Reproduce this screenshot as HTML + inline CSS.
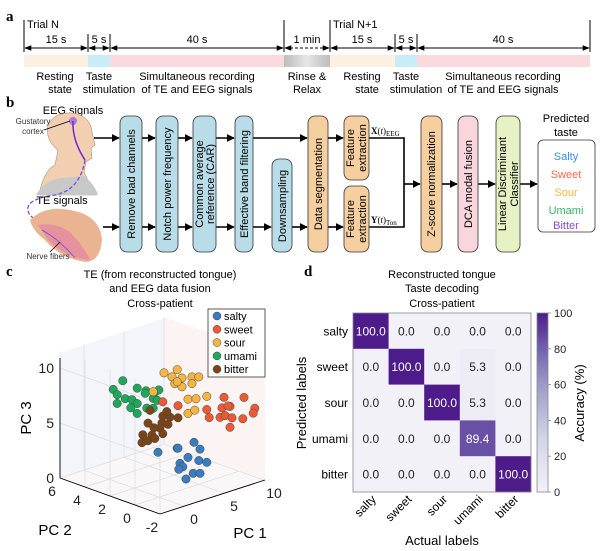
<!DOCTYPE html>
<html><head><meta charset="utf-8"><style>
html,body{margin:0;padding:0;background:#fff;}
svg{display:block;font-family:"Liberation Sans",sans-serif;}
</style></head><body>
<svg id="fig" width="600" height="551" viewBox="0 0 600 551" xmlns="http://www.w3.org/2000/svg">
<defs>
<marker id="ah" viewBox="0 0 10 10" refX="9" refY="5" markerWidth="7" markerHeight="7" orient="auto-start-reverse"><path d="M0,1 L10,5 L0,9 z" fill="#000"/></marker>
<marker id="ab" viewBox="0 0 10 10" refX="9" refY="5" markerWidth="5" markerHeight="5" orient="auto"><path d="M0,0 L10,5 L0,10 z" fill="#000"/></marker>
<linearGradient id="rinse" x1="0" x2="1"><stop offset="0" stop-color="#bdbdbd"/><stop offset="0.5" stop-color="#e6e6e6"/><stop offset="1" stop-color="#bdbdbd"/></linearGradient>
<linearGradient id="cbar" x1="0" y1="1" x2="0" y2="0"><stop offset="0" stop-color="#f3f1f8"/><stop offset="0.3" stop-color="#d4d3e8"/><stop offset="0.6" stop-color="#9e9ac8"/><stop offset="0.8" stop-color="#7262ad"/><stop offset="1" stop-color="#4d1c8a"/></linearGradient>
</defs>

<!-- Panel a -->
<g>
<text x="6" y="21" font-family="Liberation Serif" font-weight="bold" font-size="15">a</text>
<text x="27" y="28" font-size="11">Trial N</text>
<text x="333" y="28" font-size="11">Trial N+1</text>
<g stroke="#000" stroke-width="1">
<line x1="24" y1="20" x2="24" y2="52"/><line x1="284" y1="20" x2="284" y2="52"/><line x1="330" y1="20" x2="330" y2="52"/><line x1="590" y1="20" x2="590" y2="52"/>
<line x1="88" y1="34" x2="88" y2="52"/><line x1="110" y1="34" x2="110" y2="52"/><line x1="395" y1="34" x2="395" y2="52"/><line x1="417" y1="34" x2="417" y2="52"/>
<line x1="25" y1="48" x2="87" y2="48" marker-start="url(#ah)" marker-end="url(#ah)"/>
<line x1="89" y1="48" x2="109" y2="48" marker-start="url(#ah)" marker-end="url(#ah)"/>
<line x1="111" y1="48" x2="283" y2="48" marker-start="url(#ah)" marker-end="url(#ah)"/>
<line x1="285" y1="48" x2="329" y2="48" stroke-dasharray="3,2" marker-start="url(#ah)" marker-end="url(#ah)"/>
<line x1="331" y1="48" x2="394" y2="48" marker-start="url(#ah)" marker-end="url(#ah)"/>
<line x1="396" y1="48" x2="416" y2="48" marker-start="url(#ah)" marker-end="url(#ah)"/>
<line x1="418" y1="48" x2="589" y2="48" marker-start="url(#ah)" marker-end="url(#ah)"/>
</g>
<g font-size="11" text-anchor="middle">
<text x="56" y="43">15 s</text><text x="99" y="43">5 s</text><text x="197" y="43">40 s</text><text x="307" y="43">1 min</text>
<text x="362" y="43">15 s</text><text x="406" y="43">5 s</text><text x="503" y="43">40 s</text>
</g>
<rect x="24" y="55" width="64" height="12" fill="#fbf0e2"/>
<rect x="88" y="55" width="22" height="12" fill="#c8ecf8"/>
<rect x="110" y="55" width="174" height="12" fill="#fadadd"/>
<rect x="284" y="55" width="46" height="12" fill="url(#rinse)"/>
<rect x="330" y="55" width="65" height="12" fill="#fbf0e2"/>
<rect x="395" y="55" width="22" height="12" fill="#c8ecf8"/>
<rect x="417" y="55" width="173" height="12" fill="#fadadd"/>
<g font-size="11" text-anchor="middle">
<text x="55" y="80">Resting</text><text x="99" y="80">Taste</text><text x="197" y="80">Simultaneous recording</text><text x="307" y="80">Rinse &amp;</text>
<text x="362" y="80">Resting</text><text x="406" y="80">Taste</text><text x="503" y="80">Simultaneous recording</text>
<text x="60" y="93">state</text><text x="109" y="93">stimulation</text><text x="197" y="93">of TE and EEG signals</text><text x="307" y="93">Relax</text>
<text x="367" y="93">state</text><text x="416" y="93">stimulation</text><text x="503" y="93">of TE and EEG signals</text>
</g>
</g>

<!-- Panel b -->
<g>
<text x="6" y="107" font-family="Liberation Serif" font-weight="bold" font-size="15">b</text>
<text x="73" y="114" font-size="11" text-anchor="middle">EEG signals</text>
<g>
<path d="M40,190 Q45,170 55,165 L58,150 Q45,140 48,125 Q55,112 72,113 Q90,115 92,132 L95,145 L91,148 L92,158 L86,162 L84,172 Q90,185 96,195 L40,195 z" fill="#f2cfb0" stroke="#b58c6e" stroke-width="0.6"/>
<path d="M36,195 Q45,180 62,178 L84,176 Q95,185 98,195 z" fill="#c8c8c8"/>
<circle cx="73" cy="121" r="4" fill="#a060e0" opacity="0.8"/>
<path d="M73,121 Q72,140 85,160" stroke="#6a2bd6" stroke-width="1.5" fill="none"/>
</g>
<text x="33" y="124" font-size="8" text-anchor="middle" fill="#333">Gustatory</text>
<text x="33" y="134" font-size="8" text-anchor="middle" fill="#333">cortex</text>
<line x1="44" y1="130" x2="70" y2="121" stroke="#000" stroke-width="0.8"/>
<path d="M85,160 Q80,190 55,195 Q20,200 30,215 Q40,225 55,238" stroke="#7a4ae6" stroke-width="1.3" stroke-dasharray="4,2" fill="none"/>
<text x="62" y="204" font-size="11" text-anchor="middle">TE signals</text>
<path d="M30,220 Q45,205 70,210 Q100,215 102,240 Q100,262 85,262 Q60,258 45,240 Q32,230 30,220 z" fill="#eab392"/>
<path d="M38,225 Q55,222 70,232 Q85,248 90,260 Q65,258 48,240 z" fill="#e48aa0" opacity="0.8"/>
<path d="M42,230 Q60,240 75,258" stroke="#7a4ae6" stroke-width="0.8" fill="none"/>
<text x="48" y="259" font-size="8" text-anchor="middle" fill="#333">Nerve fibers</text>
<line x1="50" y1="252" x2="60" y2="242" stroke="#000" stroke-width="0.8"/>

<g stroke="#000" stroke-width="1.6">
<line x1="94" y1="138" x2="119" y2="138" marker-end="url(#ab)"/>
<line x1="103" y1="227" x2="119" y2="227" marker-end="url(#ab)"/>
<line x1="142" y1="138" x2="155" y2="138" marker-end="url(#ab)"/>
<line x1="142" y1="227" x2="155" y2="227" marker-end="url(#ab)"/>
<line x1="178" y1="138" x2="192" y2="138" marker-end="url(#ab)"/>
<line x1="178" y1="227" x2="192" y2="227" marker-end="url(#ab)"/>
<line x1="216" y1="138" x2="234" y2="138" marker-end="url(#ab)"/>
<line x1="216" y1="227" x2="234" y2="227" marker-end="url(#ab)"/>
<line x1="253" y1="138" x2="307" y2="138" marker-end="url(#ab)"/>
<line x1="253" y1="227" x2="271" y2="227" marker-end="url(#ab)"/>
<line x1="292" y1="227" x2="307" y2="227" marker-end="url(#ab)"/>
<line x1="328" y1="138" x2="343" y2="138" marker-end="url(#ab)"/>
<line x1="328" y1="227" x2="343" y2="227" marker-end="url(#ab)"/>
<polyline points="369,138 404,138 404,227 369,227" fill="none"/>
<line x1="404" y1="184" x2="420" y2="184" marker-end="url(#ab)"/>
<line x1="442" y1="184" x2="457" y2="184" marker-end="url(#ab)"/>
<line x1="478" y1="184" x2="495" y2="184" marker-end="url(#ab)"/>
<line x1="520" y1="184" x2="537" y2="184" marker-end="url(#ab)"/>
</g>
<text x="371" y="134" font-size="9" font-family="Liberation Serif"><tspan font-weight="bold">X</tspan>(<tspan font-style="italic">t</tspan>)<tspan font-size="7" dy="2">EEG</tspan></text>
<text x="371" y="223" font-size="9" font-family="Liberation Serif"><tspan font-weight="bold">Y</tspan>(<tspan font-style="italic">t</tspan>)<tspan font-size="7" dy="2">Ton</tspan></text>

<g stroke="#333" stroke-width="0.8" font-size="11">
<rect x="120" y="116" width="22" height="136" rx="7" fill="#b9dde8"/>
<rect x="156" y="116" width="22" height="136" rx="7" fill="#b9dde8"/>
<rect x="193" y="116" width="23" height="136" rx="7" fill="#b9dde8"/>
<rect x="235" y="116" width="18" height="136" rx="7" fill="#b9dde8"/>
<rect x="272" y="159" width="20" height="93" rx="7" fill="#b9dde8"/>
<rect x="308" y="116" width="20" height="136" rx="7" fill="#f5cfa0"/>
<rect x="344" y="116" width="25" height="64" rx="7" fill="#f5cfa0"/>
<rect x="344" y="186" width="25" height="66" rx="7" fill="#f5cfa0"/>
<rect x="421" y="116" width="21" height="136" rx="7" fill="#f5cfa0"/>
<rect x="458" y="116" width="20" height="136" rx="7" fill="#f9d6dc"/>
<rect x="496" y="116" width="24" height="136" rx="7" fill="#e6f2c4"/>
<rect x="538" y="140" width="57" height="92" rx="5" fill="#fff"/>
</g>
<g font-size="11" fill="#000" text-anchor="middle">
<text transform="translate(135,184) rotate(-90)">Remove bad channels</text>
<text transform="translate(171,184) rotate(-90)">Notch power frequency</text>
<text transform="translate(203,184) rotate(-90)">Common average</text>
<text transform="translate(214,184) rotate(-90)">reference (CAR)</text>
<text transform="translate(248,184) rotate(-90)">Effective band filtering</text>
<text transform="translate(286,206) rotate(-90)">Downsampling</text>
<text transform="translate(322,184) rotate(-90)">Data segmentation</text>
<text transform="translate(354,148) rotate(-90)">Feature</text>
<text transform="translate(366,148) rotate(-90)">extraction</text>
<text transform="translate(354,219) rotate(-90)">Feature</text>
<text transform="translate(366,219) rotate(-90)">extraction</text>
<text transform="translate(435,184) rotate(-90)">Z-score normalization</text>
<text transform="translate(472,184) rotate(-90)">DCA modal fusion</text>
<text transform="translate(506,184) rotate(-90)">Linear Discriminant</text>
<text transform="translate(518,184) rotate(-90)">Classifier</text>
<text x="566" y="122">Predicted</text>
<text x="566" y="136">taste</text>
</g>
<g font-size="11" text-anchor="middle">
<text x="566" y="160" fill="#3b8fe0">Salty</text>
<text x="566" y="178" fill="#f06a4a">Sweet</text>
<text x="566" y="196" fill="#f8b64a">Sour</text>
<text x="566" y="214" fill="#2fb56a">Umami</text>
<text x="566" y="232" dy="-3" fill="#8a4ac8">Bitter</text>
</g>
</g>

<!-- Panel c -->
<g id="panelC">
<text x="6" y="276" font-family="Liberation Serif" font-weight="bold" font-size="15">c</text>
<g font-size="11" text-anchor="middle">
<text x="160" y="278">TE (from reconstructed tongue)</text>
<text x="160" y="292">and EEG data fusion</text>
<text x="160" y="307">Cross-patient</text>
</g>
<polygon points="60,478 165,444 165,318 60,353" fill="#f4f4fb"/>
<polygon points="165,444 265,480 265,350 165,318" fill="#fcf3f3"/>
<polygon points="60,478 160,514 265,480 165,444" fill="#f9f7f8"/>
<g id="grid3d" stroke="#dcdcdc" stroke-width="0.7" fill="none"></g>
<g id="pts"></g>
<g stroke="#000" stroke-width="0.9">
<line x1="60" y1="478" x2="60" y2="358"/>
<line x1="60" y1="478" x2="160" y2="514"/>
<line x1="160" y1="514" x2="265" y2="480"/>
</g>
<g id="ticks3d" font-size="14" fill="#222"></g>
<text x="55" y="535" font-size="15" text-anchor="middle">PC 2</text>
<text x="250" y="538" font-size="15" text-anchor="middle">PC 1</text>
<text transform="translate(31,418) rotate(-90)" font-size="15" text-anchor="middle">PC 3</text>
<g>
<rect x="208" y="309" width="57" height="68" fill="#fff" stroke="#333" stroke-width="0.8"/>
<g id="legendItems" font-size="11"></g>
</g>
</g>

<!-- Panel d -->
<g id="panelD">
<text x="304" y="276" font-family="Liberation Serif" font-weight="bold" font-size="15">d</text>
<g font-size="11" text-anchor="middle">
<text x="442" y="278">Reconstructed tongue</text>
<text x="442" y="292">Taste decoding</text>
<text x="442" y="307">Cross-patient</text>
</g>
<g id="cells"></g>
<rect x="353" y="313" width="178" height="179" fill="none" stroke="#888" stroke-width="0.8"/>
<rect x="537" y="313" width="11" height="179" fill="url(#cbar)" stroke="#888" stroke-width="0.8"/>
<g id="cbTicks" font-size="11" fill="#222"></g>
<text transform="translate(584,403) rotate(-90)" font-size="13" text-anchor="middle">Accuracy (%)</text>
<text transform="translate(306,403) rotate(-90)" font-size="13" text-anchor="middle">Predicted labels</text>
<text x="442" y="545" font-size="13" text-anchor="middle">Actual labels</text>
<g id="rowLabels" font-size="12" text-anchor="end"></g>
<g id="colLabels" font-size="12" text-anchor="end"></g>
</g>
</svg>
<script>
// ---------- Panel c data ----------
const classNames = ['salty','sweet','sour','umami','bitter'];
const classColors = ['#3a7cc0','#ec5a35','#f6b443','#1ea85a','#7a4417'];
const pc2Fixed = 2;
const saltyPC1 = [3.0,5.4,5.5,7.5,8.25,6.75,8.1,9.1,5.75,6.1,5.6,7.4,8.25,6.5];
const saltyPC3 = [2.56,2.36,2.34,2.4,1.6,1.2,0.6,0.2,0.9,0.5,0.4,-0.4,-0.6,-0.7];
const sweetPC1 = [3.6,5.5,9.1,9.4,11.25,12,11,10.75,11.4,12.25,13.75,15.1,14.9,13.6,12,11.75];
const sweetPC3 = [7.0,6.2,5.0,4.2,5.6,4.6,4.7,3.9,3.9,3.5,5.0,3.7,3.3,3.1,2.7,4.7];
const sourPC1 = [3.75,5.4,4.75,6,5.1,7.25,8.1,6,7.25,9.1,6.75,7.75,6.75,7.6,2.4,5.4];
const sourPC3 = [9.6,9.5,9.0,8.6,8.3,8.4,8.2,7.8,7.8,6.2,6.5,6.3,5.2,5.3,8.2,8.4];
const umamiPC1 = [-1.4,-2.6,-2.1,-1.1,-2.1,-0.25,0.4,1.5,2.6,3.1,1.4,2.4,0.4,-0.4,0.4,1.6,2.4,2.9];
const umamiPC3 = [10.1,9.6,9.0,8.4,8.2,8.1,9.0,8.5,8.1,8.2,8.3,7.6,7.6,7.4,6.7,6.9,6.7,7.3];
const bitterPC1 = [2,3.6,4.5,5.5,3.5,4.25,3.25,2.5,1.1,2.25,3.6,1,1.75,2.6,1.75,4.1];
const bitterPC3 = [6.6,5.7,5.4,5.1,5.1,4.8,4.7,4.9,4.6,4.3,4.1,3.9,3.9,3.9,5.5,6.0];
const pc1Ticks = [0,5,10];
const pc2Ticks = [6,4,2,0,-2];
const pc3Ticks = [0,5,10];

// ---------- Panel d data ----------
const predLabels = ['salty','sweet','sour','umami','bitter'];
const actualLabels = ['salty','sweet','sour','umami','bitter'];
const rowSalty = [100.0,0.0,0.0,0.0,0.0];
const rowSweet = [0.0,100.0,0.0,5.3,0.0];
const rowSour = [0.0,0.0,100.0,5.3,0.0];
const rowUmami = [0.0,0.0,0.0,89.4,0.0];
const rowBitter = [0.0,0.0,0.0,0.0,100.0];
const cbTickValues = [0,20,40,60,80,100];

const NS='http://www.w3.org/2000/svg';
function mk(tag, attrs, parent){const e=document.createElementNS(NS,tag);for(const k in attrs)e.setAttribute(k,attrs[k]);parent.appendChild(e);return e;}

// 3D projection (axis function)
function proj(p1,p2,p3){
  const X = 160 + 8*(p1+3) - 12.5*(p2+2);
  const Y = 514 - 2.6*(p1+3) - 4.5*(p2+2) - 11*p3;
  return [X,Y];
}
// grid
const grid=document.getElementById('grid3d');
[0,5,10].forEach(v=>{
  const a=proj(-3,6,v), b=proj(10,6,v), c=proj(-3,-2,v);
  const g1=mk('line',{x1:c[0],y1:c[1]-0,x2:a[0],y2:a[1]},grid);
  
  
});
[0,5,10].forEach(v=>{
  const a=proj(v,6,0), b=proj(v,6,11.5);
  const l=mk('line',{x1:a[0],y1:a[1],x2:b[0],y2:b[1]},grid);
  
  
  const c=proj(v,6,0), d=proj(v,-2,0);
  const l2=mk('line',{x1:c[0],y1:c[1],x2:d[0],y2:d[1]},grid);
  
  
});
[-2,0,2,4,6].forEach(v=>{
  const a=proj(-3,v,0), b=proj(-3,v,11.5), c=proj(10,v,0);
  const l=mk('line',{x1:a[0],y1:a[1],x2:b[0],y2:b[1]},grid);
  
  
  const l2=mk('line',{x1:a[0],y1:a[1],x2:c[0],y2:c[1]},grid);
  
  
});
// points
const pts=document.getElementById('pts');
const sets=[[saltyPC1,saltyPC3],[sweetPC1,sweetPC3],[sourPC1,sourPC3],[umamiPC1,umamiPC3],[bitterPC1,bitterPC3]];
[3,4,2,1,0].forEach(ci=>{
  const [xs,zs]=sets[ci];
  xs.forEach((v,i)=>{
    const [X,Y]=proj(v,pc2Fixed,zs[i]);
    const c=mk('circle',{cx:X,cy:Y,r:4.2,fill:classColors[ci],stroke:'#444','stroke-width':0.5},pts);
    
    
  });
});
// ticks
const tk=document.getElementById('ticks3d');
pc3Ticks.forEach(v=>{
  const [X,Y]=proj(-3,6,v);
  const t=mk('text',{x:X-6,y:Y+5,'text-anchor':'end'},tk); t.textContent=v;
  
  
});
pc2Ticks.forEach(v=>{
  const [X,Y]=proj(-3,v,0);
  const t=mk('text',{x:X-8,y:Y+18,'text-anchor':'middle'},tk); t.textContent=v;
  
  
});
pc1Ticks.forEach(v=>{
  const [X,Y]=proj(v,-2,0);
  const t=mk('text',{x:X+10,y:Y+18,'text-anchor':'middle'},tk); t.textContent=v;
  
  
});
// legend
const lg=document.getElementById('legendItems');
classNames.forEach((n,i)=>{
  const y=316+i*13.3;
  const c=mk('circle',{cx:217,cy:y,r:4,fill:classColors[i],stroke:'#444','stroke-width':0.5},lg);
  
  
  const t=mk('text',{x:224,y:y+4},lg); t.textContent=n;
  
  
});

// Panel d
const rows=[rowSalty,rowSweet,rowSour,rowUmami,rowBitter];
const gx0=353,gy0=313,cw=178/5,ch=179/5;
function colX(j){return gx0+j*cw;}
function rowY(i){return gy0+i*ch;}
function cmap(v){
  const stops=[[0,[243,241,248]],[20,[225,223,238]],[40,[190,188,220]],[60,[158,154,200]],[80,[114,98,173]],[90,[104,80,165]],[100,[77,28,138]]];
  for(let k=1;k<stops.length;k++){if(v<=stops[k][0]){const a=stops[k-1],b=stops[k];const t=(v-a[0])/(b[0]-a[0]);return 'rgb('+a[1].map((c,m)=>Math.round(c+(b[1][m]-c)*t)).join(',')+')';}}
  return 'rgb(77,28,138)';
}
const cells=document.getElementById('cells');
rows.forEach((r,i)=>{
  r.forEach((v,j)=>{
    const rc=mk('rect',{x:colX(j),y:rowY(i),width:cw+0.3,height:ch+0.3,fill:cmap(v)},cells);
    
    
    const t=mk('text',{x:colX(j)+cw/2,y:rowY(i)+ch/2+4.5,'text-anchor':'middle','font-size':12,fill:v>50?'#fff':'#222'},cells);
    t.textContent=v.toFixed(1);
    
    
  });
});
const rl=document.getElementById('rowLabels');
predLabels.forEach((n,i)=>{
  const t=mk('text',{x:348,y:rowY(i)+ch/2+4.5},rl); t.textContent=n;
  
  
});
const cl=document.getElementById('colLabels');
actualLabels.forEach((n,j)=>{
  const x=colX(j)+cw/2+6, y=500;
  const t=mk('text',{x:x,y:y,transform:'rotate(-45 '+x+' '+y+')'},cl); t.textContent=n;
  
  
});
const cb=document.getElementById('cbTicks');
cbTickValues.forEach(v=>{
  const y=492-v/100*179;
  const l=mk('line',{x1:548,y1:y,x2:551,y2:y,stroke:'#888','stroke-width':0.8},cb);
  
  
  const t=mk('text',{x:554,y:y+4},cb); t.textContent=v;
  
  
});
</script>
</body></html>
